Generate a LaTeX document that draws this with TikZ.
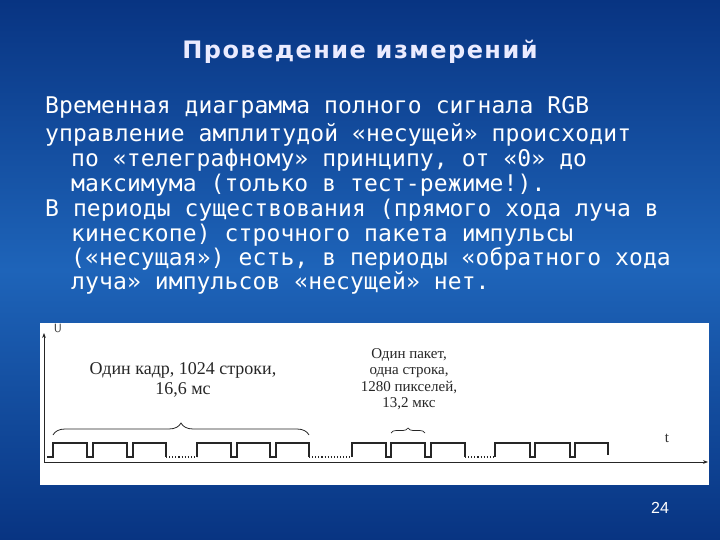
\documentclass[tikz,border=0pt]{standalone}
\usepackage{fontspec}
\setmainfont{DejaVu Sans}
\newfontfamily\bodyfont[LetterSpace=0.5]{DejaVu Sans Mono}
\newfontfamily\titlefont[LetterSpace=6]{DejaVu Sans}
\newfontfamily\pgfont{Liberation Sans}
\newfontfamily\serifru{Liberation Serif}
\usetikzlibrary{decorations.pathreplacing,arrows.meta}
\definecolor{bgdark}{RGB}{8,52,130}
\definecolor{bglight}{RGB}{30,100,185}
\tikzset{
  body/.style={anchor=west,text=white,font=\bodyfont\fontsize{23}{23}\selectfont,inner sep=0},
  lbl/.style={font=\serifru\fontsize{18}{20}\selectfont,align=center,inner sep=0,text=black!85},
  sig/.style={line width=1.1pt,black!85},
  dots/.style={line width=1.1pt,black!85,dotted},
  axis/.style={line width=1pt,black!85,-{Stealth[length=5pt]}}
}
\begin{document}
\begin{tikzpicture}[x=1pt,y=-1pt]
\shade[top color=bgdark,bottom color=bgdark,middle color=bglight] (0,0) rectangle (720,540);
\useasboundingbox (0,0) rectangle (720,540);
\node[text=white!92!blue,font=\titlefont\bfseries\fontsize{24}{24}\selectfont] (title) at (360,52) {Проведение измерений};
\node[body] (l1) at (45,107) {Временная диаграмма полного сигнала RGB};
\node[body] (l2) at (45,135) {управление амплитудой «несущей» происходит};
\node[body] (l3) at (71,160) {по «телеграфному» принципу, от «0» до};
\node[body] (l4) at (71,185) {максимума (только в тест-режиме!).};
\node[body] (l5) at (45,210) {В периоды существования (прямого хода луча в};
\node[body] (l6) at (71,235) {кинескопе) строчного пакета импульсы};
\node[body] (l7) at (71,259) {(«несущая») есть, в периоды «обратного хода};
\node[body] (l8) at (71,283) {луча» импульсов «несущей» нет.};
\fill[white] (40,323) rectangle (709,485);
\coordinate (o) at (44,462);
\coordinate (ytop) at (44,333);
\coordinate (xend) at (708,462);
\draw[axis] (o) -- (ytop);
\draw[axis] (o) -- (xend);
\node[font=\sffamily\fontsize{12}{12}\selectfont,text=black!80] (U) at (58,328) {U};
\node[font=\serifru\fontsize{15}{15}\selectfont,text=black!80] (t) at (667,438) {t};
\draw[sig] (47,457) -- (53,457) -- (53,443) -- (87,443) -- (87,457) -- (93,457) -- (93,443) -- (127,443) -- (127,457) -- (133,457) -- (133,443) -- (166,443) -- (166,457);
\draw[dots] (166,457) -- (197,457);
\draw[sig] (197,457) -- (197,443) -- (231,443) -- (231,457) -- (237,457) -- (237,443) -- (270,443) -- (270,457) -- (276,457) -- (276,443) -- (309,443) -- (309,457);
\draw[dots] (309,457) -- (352,457);
\draw[sig] (352,457) -- (352,443) -- (386,443) -- (386,457) -- (391,457) -- (391,443) -- (425,443) -- (425,457) -- (431,457) -- (431,443) -- (465,443) -- (465,457);
\draw[dots] (465,457) -- (495,457);
\draw[sig] (495,457) -- (495,443) -- (530,443) -- (530,457) -- (535,457) -- (535,443) -- (570,443) -- (570,457) -- (575,457) -- (575,443) -- (608,443) -- (608,455);
\coordinate (b1a) at (53,435);
\coordinate (b1b) at (309,435);
\draw[black!85,line width=0.8pt,decorate,decoration={brace,amplitude=12pt}] (b1a) -- (b1b);
\node[lbl] (frame) at (183,380) {Один кадр, 1024 строки,\\16,6 мс};
\coordinate (b2a) at (391,433);
\coordinate (b2b) at (425,433);
\draw[black!85,line width=0.7pt,decorate,decoration={brace,amplitude=5pt}] (b2a) -- (b2b);
\node[lbl,font=\serifru\fontsize{15}{16.5}\selectfont] (pack) at (409,379) {Один пакет,\\одна строка,\\1280 пикселей,\\13,2 мкс};
\node[text=white,font=\pgfont\fontsize{16}{16}\selectfont] (pg) at (660,508) {24};
\end{tikzpicture}
\end{document}
